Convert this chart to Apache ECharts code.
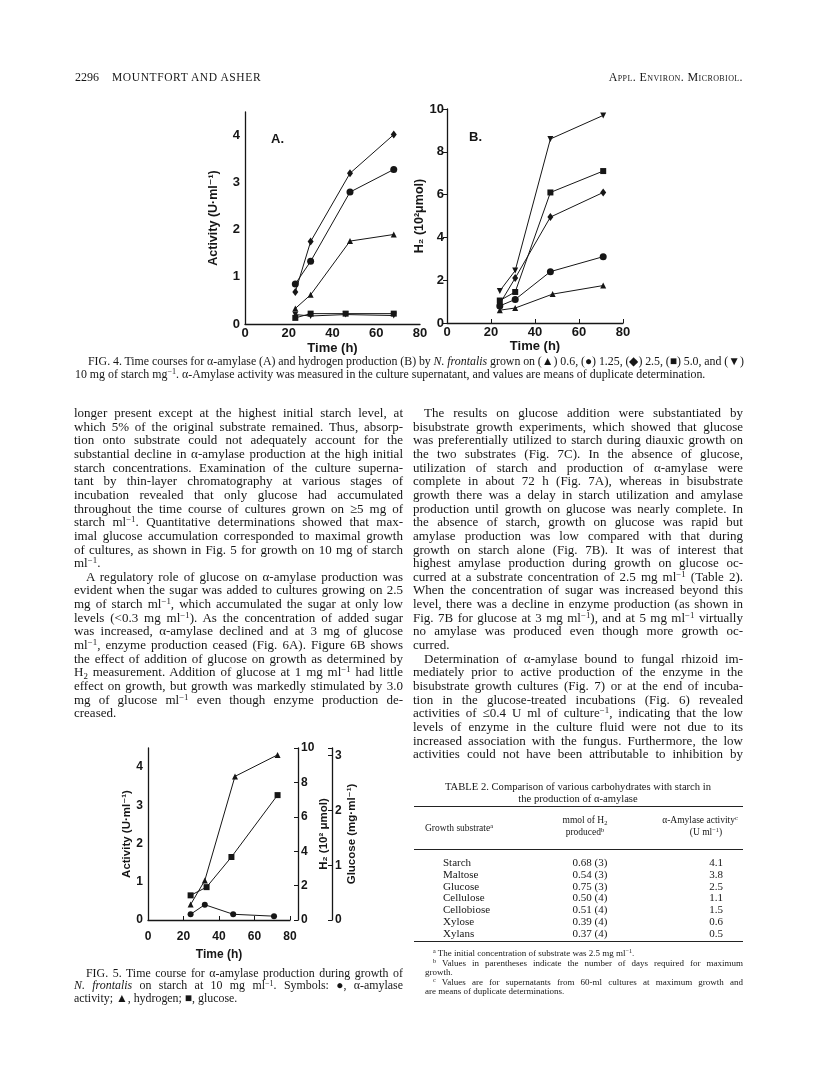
<!DOCTYPE html>
<html>
<head>
<meta charset="utf-8">
<script src="https://cdn.jsdelivr.net/npm/echarts@6/dist/echarts.min.js"></script>
<style>
  body { margin: 0; background: #fff; }
  #page { position: relative; width: 816px; height: 1084px; overflow: hidden;
          font-family: "Liberation Serif", "Times New Roman", serif; color: #161616; }
  #chart { position: absolute; left: 0; top: 0; width: 816px; height: 1084px; }
  .ln { position: absolute; white-space: nowrap; font-size: 13px; line-height: 14px; }
  .cap { font-size: 11.9px; line-height: 13px; }
  .tb { font-size: 10.6px; line-height: 12px; }
  .fn { font-size: 9px; line-height: 10px; }
  sup { font-size: 0.68em; position: relative; top: -0.45em; vertical-align: baseline; line-height: 0; }
  sub { font-size: 0.68em; position: relative; top: 0.25em; vertical-align: baseline; line-height: 0; }
  .rule { position: absolute; border-top: 1px solid #222; }
</style>
</head>
<body>
<div id="page">
  <div id="chart"></div>
  <div id="text"></div>
</div>
<script>
// ---------- Fig. 4A: alpha-amylase activity (U/ml) ----------
const timesA = [23, 30, 48, 68];
const timesA_low = [23, 30, 46, 68];
const actA_06 = [0.33, 0.62, 1.76, 1.9];
const actA_125 = [0.85, 1.33, 2.8, 3.28];
const actA_25 = [0.68, 1.75, 3.2, 4.02];
const actA_50 = [0.13, 0.22, 0.22, 0.22];
const actA_10 = [0.2, 0.17, 0.2, 0.18];

// ---------- Fig. 4B: H2 (10^2 umol) ----------
const timesB = [24, 31, 47, 71];
const timesB_06 = [24, 31, 48, 71];
const h2B_06 = [0.6, 0.7, 1.35, 1.75];
const h2B_125 = [0.8, 1.1, 2.4, 3.1];
const h2B_25 = [0.9, 2.1, 4.95, 6.1];
const h2B_50 = [1.05, 1.45, 6.1, 7.1];
const h2B_10 = [1.5, 2.45, 8.6, 9.7];

// ---------- Fig. 5 ----------
const times5_act = [24, 32, 48, 71];
const times5_h2 = [24, 32, 49, 73];
const times5_glc = [24, 33, 47, 73];
const act5 = [0.15, 0.4, 0.15, 0.1];
const h2_5 = [0.9, 2.3, 8.35, 9.6];
const glc5 = [0.45, 0.6, 1.15, 2.28];

function pairs(xs, ys) {
  return xs.map((x, i) => [x, ys[i]]);
}

const ink = "#161616";
const sans = "Liberation Sans, DejaVu Sans, sans-serif";

function intOnly(v) {
  return Number.isInteger(v) ? String(v) : "";
}

function xAx(grid, opt) {
  return Object.assign({
    gridIndex: grid, type: "value", min: 0, max: 80, interval: 20,
    axisLine: { lineStyle: { color: ink, width: 1.3 } },
    axisTick: { show: false },
    splitLine: { show: false },
    axisLabel: { color: ink, fontFamily: sans, fontWeight: "bold", fontSize: 13, margin: 3 },
    name: "Time (h)", nameLocation: "middle", nameGap: 18,
    nameTextStyle: { color: ink, fontFamily: sans, fontWeight: "bold", fontSize: 13 },
  }, opt);
}

function yAx(grid, opt) {
  return Object.assign({
    gridIndex: grid, type: "value", min: 0,
    axisLine: { show: true, lineStyle: { color: ink, width: 1.3 } },
    axisTick: { show: false },
    splitLine: { show: false },
    axisLabel: { color: ink, fontFamily: sans, fontWeight: "bold", fontSize: 13, margin: 5, formatter: intOnly },
    nameLocation: "middle", nameRotate: 90,
    nameTextStyle: { color: ink, fontFamily: sans, fontWeight: "bold", fontSize: 12.5 },
  }, opt);
}

function line(xi, yi, data, symbol, size, rotate) {
  return {
    type: "line", xAxisIndex: xi, yAxisIndex: yi, data: data,
    symbol: symbol, symbolSize: size, symbolRotate: rotate || 0,
    showSymbol: true, animation: false, silent: true,
    lineStyle: { color: ink, width: 1 },
    itemStyle: { color: ink, borderWidth: 0 },
  };
}

var myChart = echarts.init(document.getElementById("chart"));

const label5 = { color: ink, fontFamily: sans, fontWeight: "bold", fontSize: 12, margin: 3, formatter: intOnly };
const name5 = { color: ink, fontFamily: sans, fontWeight: "bold", fontSize: 11.5 };
const tickIn = { show: true, inside: true, length: 4, lineStyle: { color: ink } };

var option = {
  animation: false,
  grid: [
    { left: 245, top: 112, width: 175, height: 212 },
    { left: 447, top: 109, width: 176, height: 214 },
    { left: 148, top: 748, width: 142, height: 172 },
  ],
  xAxis: [
    xAx(0, {}),
    xAx(1, { axisTick: tickIn, nameGap: 16 }),
    xAx(2, {
      axisTick: tickIn,
      axisLabel: { color: ink, fontFamily: sans, fontWeight: "bold", fontSize: 12, margin: 11 },
      nameGap: 29,
      nameTextStyle: { color: ink, fontFamily: sans, fontWeight: "bold", fontSize: 12 },
    }),
  ],
  yAxis: [
    yAx(0, { max: 4.5, interval: 1, name: "Activity (U·ml⁻¹)", nameGap: 25 }),
    yAx(1, { max: 10, interval: 2, name: "H₂ (10²μmol)", nameGap: 17,
      axisTick: { show: true, length: 4, lineStyle: { color: ink } },
      axisLabel: { color: ink, fontFamily: sans, fontWeight: "bold", fontSize: 13, margin: 3, formatter: intOnly } }),
    yAx(2, { max: 4.5, interval: 1, name: "Activity (U·ml⁻¹)", nameGap: 11,
      axisLabel: Object.assign({}, label5, { margin: 5 }),
      nameTextStyle: name5 }),
    yAx(2, { position: "right", offset: 8, max: 10, interval: 2, name: "H₂ (10² μmol)", nameGap: 15,
      axisTick: tickIn, axisLabel: label5, nameTextStyle: name5 }),
    yAx(2, { position: "right", offset: 42, max: 3.14, interval: 1, name: "Glucose (mg·ml⁻¹)", nameGap: 10,
      axisTick: tickIn, axisLabel: label5, nameTextStyle: name5 }),
  ],
  graphic: [
    { type: "text", left: 271, top: 133, style: { text: "A.", font: "bold 13px " + sans, fill: ink } },
    { type: "text", left: 469, top: 131, style: { text: "B.", font: "bold 13px " + sans, fill: ink } },
  ],
  series: [
    line(0, 0, pairs(timesA, actA_06), "triangle", 6),
    line(0, 0, pairs(timesA, actA_125), "circle", 7),
    line(0, 0, pairs(timesA, actA_25), "diamond", [6, 8]),
    line(0, 0, pairs(timesA_low, actA_50), "rect", 6),
    line(0, 0, pairs(timesA_low, actA_10), "triangle", 6, 180),

    line(1, 1, pairs(timesB_06, h2B_06), "triangle", 6),
    line(1, 1, pairs(timesB, h2B_125), "circle", 7),
    line(1, 1, pairs(timesB, h2B_25), "diamond", [6, 8]),
    line(1, 1, pairs(timesB, h2B_50), "rect", 6),
    line(1, 1, pairs(timesB, h2B_10), "triangle", 6, 180),

    line(2, 2, pairs(times5_act, act5), "circle", 6),
    line(2, 3, pairs(times5_h2, h2_5), "triangle", 6),
    line(2, 4, pairs(times5_glc, glc5), "rect", 6),
  ],
};
myChart.setOption(option);

// ---------- page text ----------
const leftLines = [
  ["j", "longer present except at the highest initial starch level, at"],
  ["j", "which 5% of the original substrate remained. Thus, absorp-"],
  ["j", "tion onto substrate could not adequately account for the"],
  ["j", "substantial decline in α-amylase production at the high initial"],
  ["j", "starch concentrations. Examination of the culture superna-"],
  ["j", "tant by thin-layer chromatography at various stages of"],
  ["j", "incubation revealed that only glucose had accumulated"],
  ["j", "throughout the time course of cultures grown on ≥5 mg of"],
  ["j", "starch ml<sup>−1</sup>. Quantitative determinations showed that max-"],
  ["j", "imal glucose accumulation corresponded to maximal growth"],
  ["j", "of cultures, as shown in Fig. 5 for growth on 10 mg of starch"],
  ["l", "ml<sup>−1</sup>."],
  ["i", "A regulatory role of glucose on α-amylase production was"],
  ["j", "evident when the sugar was added to cultures growing on 2.5"],
  ["j", "mg of starch ml<sup>−1</sup>, which accumulated the sugar at only low"],
  ["j", "levels (&lt;0.3 mg ml<sup>−1</sup>). As the concentration of added sugar"],
  ["j", "was increased, α-amylase declined and at 3 mg of glucose"],
  ["j", "ml<sup>−1</sup>, enzyme production ceased (Fig. 6A). Figure 6B shows"],
  ["j", "the effect of addition of glucose on growth as determined by"],
  ["j", "H<sub>2</sub> measurement. Addition of glucose at 1 mg ml<sup>−1</sup> had little"],
  ["j", "effect on growth, but growth was markedly stimulated by 3.0"],
  ["j", "mg of glucose ml<sup>−1</sup> even though enzyme production de-"],
  ["l", "creased."],
];

const rightLines = [
  ["i", "The results on glucose addition were substantiated by"],
  ["j", "bisubstrate growth experiments, which showed that glucose"],
  ["j", "was preferentially utilized to starch during diauxic growth on"],
  ["j", "the two substrates (Fig. 7C). In the absence of glucose,"],
  ["j", "utilization of starch and production of α-amylase were"],
  ["j", "complete in about 72 h (Fig. 7A), whereas in bisubstrate"],
  ["j", "growth there was a delay in starch utilization and amylase"],
  ["j", "production until growth on glucose was nearly complete. In"],
  ["j", "the absence of starch, growth on glucose was rapid but"],
  ["j", "amylase production was low compared with that during"],
  ["j", "growth on starch alone (Fig. 7B). It was of interest that"],
  ["j", "highest amylase production during growth on glucose oc-"],
  ["j", "curred at a substrate concentration of 2.5 mg ml<sup>−1</sup> (Table 2)."],
  ["j", "When the concentration of sugar was increased beyond this"],
  ["j", "level, there was a decline in enzyme production (as shown in"],
  ["j", "Fig. 7B for glucose at 3 mg ml<sup>−1</sup>), and at 5 mg ml<sup>−1</sup> virtually"],
  ["j", "no amylase was produced even though more growth oc-"],
  ["l", "curred."],
  ["i", "Determination of α-amylase bound to fungal rhizoid im-"],
  ["j", "mediately prior to active production of the enzyme in the"],
  ["j", "bisubstrate growth cultures (Fig. 7) or at the end of incuba-"],
  ["j", "tion in the glucose-treated incubations (Fig. 6) revealed"],
  ["j", "activities of ≤0.4 U ml of culture<sup>−1</sup>, indicating that the low"],
  ["j", "levels of enzyme in the culture fluid were not due to its"],
  ["j", "increased association with the fungus. Furthermore, the low"],
  ["j", "activities could not have been attributable to inhibition by"],
];

const fig4Caption = [
  ["i", "FIG. 4. Time courses for α-amylase (A) and hydrogen production (B) by <i>N. frontalis</i> grown on (▲) 0.6, (●) 1.25, (◆) 2.5, (■) 5.0, and (▼)"],
  ["l", "10 mg of starch mg<sup>−1</sup>. α-Amylase activity was measured in the culture supernatant, and values are means of duplicate determination."],
];

const fig5Caption = [
  ["i", "FIG. 5. Time course for α-amylase production during growth of"],
  ["j", "<i>N. frontalis</i> on starch at 10 mg ml<sup>−1</sup>. Symbols: ●, α-amylase"],
  ["l", "activity; ▲, hydrogen; ■, glucose."],
];

const tableRows = ["Starch", "Maltose", "Glucose", "Cellulose", "Cellobiose", "Xylose", "Xylans"];
const tableH2 = ["0.68 (3)", "0.54 (3)", "0.75 (3)", "0.50 (4)", "0.51 (4)", "0.39 (4)", "0.37 (4)"];
const tableAct = ["4.1", "3.8", "2.5", "1.1", "1.5", "0.6", "0.5"];

const textBox = document.getElementById("text");

function put(html, cls, x, y, extra) {
  const d = document.createElement("div");
  d.className = "ln " + (cls || "");
  d.innerHTML = html;
  d.style.left = x + "px";
  d.style.top = y + "px";
  if (extra) Object.assign(d.style, extra);
  textBox.appendChild(d);
  return d;
}

function justify(el, width) {
  el.style.wordSpacing = "0px";
  const natural = el.getBoundingClientRect().width;
  const spaces = (el.textContent.match(/ /g) || []).length;
  if (spaces > 0) el.style.wordSpacing = ((width - natural) / spaces) + "px";
}

function column(lines, cls, x, width, top, step, indent) {
  lines.forEach((ln, i) => {
    const ind = ln[0] === "i" ? indent : 0;
    const el = put(ln[1], cls, x + ind, top + i * step);
    if (ln[0] !== "l") justify(el, width - ind);
  });
}

function centered(html, cls, cx, y, size) {
  const el = put(html, cls, 0, y);
  if (size) el.style.fontSize = size;
  el.style.left = (cx - el.getBoundingClientRect().width / 2) + "px";
  return el;
}

// running head
put("2296", "", 75, 70, { fontSize: "12px" });
put("MOUNTFORT AND ASHER", "", 112, 70, { fontSize: "11.5px", letterSpacing: "0.6px" });
const rh = put("Appl. Environ. Microbiol.", "", 0, 70, { fontSize: "12px", fontVariant: "small-caps", letterSpacing: "0.4px" });
rh.style.left = (743 - rh.getBoundingClientRect().width) + "px";

column(fig4Caption, "cap", 75, 669, 355, 12.5, 13);
column(leftLines, "", 74, 329, 406, 13.65, 12);
column(rightLines, "", 413, 330, 406, 13.65, 11);
column(fig5Caption, "cap", 74, 329, 967, 12.3, 12);

// table 2
centered("TABLE 2. Comparison of various carbohydrates with starch in", "tb", 578, 781);
centered("the production of α-amylase", "tb", 578, 793);

function rule(y, x1, x2, w) {
  const r = document.createElement("div");
  r.className = "rule";
  r.style.left = x1 + "px";
  r.style.top = y + "px";
  r.style.width = (x2 - x1) + "px";
  r.style.borderTopWidth = (w || 1) + "px";
  textBox.appendChild(r);
}
rule(806, 414, 743, 1.5);
rule(849, 414, 743, 1);
rule(941, 414, 743, 1.5);

put("Growth substrate<sup>a</sup>", "fn", 425, 823, { fontSize: "9.5px" });
centered("mmol of H<sub>2</sub>", "fn", 585, 815, "9.5px");
centered("produced<sup>b</sup>", "fn", 585, 827, "9.5px");
centered("α-Amylase activity<sup>c</sup>", "fn", 700, 815, "9.5px");
centered("(U ml<sup>−1</sup>)", "fn", 706, 827, "9.5px");

tableRows.forEach((name, i) => {
  const y = 856 + i * 11.8;
  put(name, "tb", 443, y, { fontSize: "11px" });
  centered(tableH2[i], "tb", 590, y, "11px");
  centered(tableAct[i], "tb", 716, y, "11px");
});

put("<sup>a</sup> The initial concentration of substrate was 2.5 mg ml<sup>−1</sup>.", "fn", 433, 948);
justify(put("<sup>b</sup> Values in parentheses indicate the number of days required for maximum", "fn", 433, 957.5), 310);
put("growth.", "fn", 425, 967);
justify(put("<sup>c</sup> Values are for supernatants from 60-ml cultures at maximum growth and", "fn", 433, 976.5), 310);
put("are means of duplicate determinations.", "fn", 425, 986);
</script>
</body>
</html>
